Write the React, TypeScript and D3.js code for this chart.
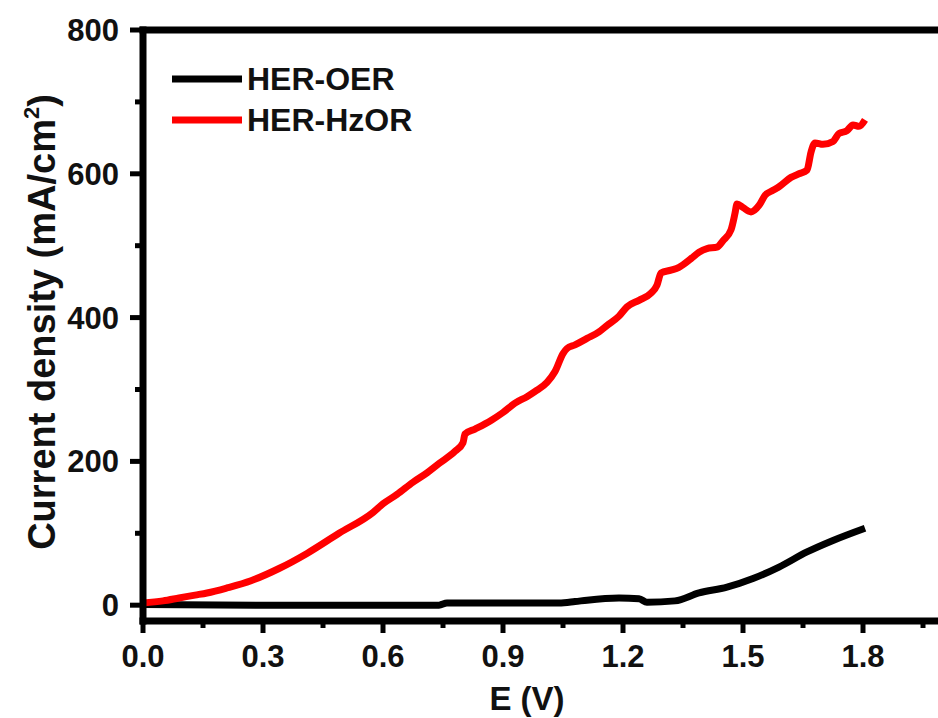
import { useEffect, useRef } from 'react';
import * as d3 from 'd3';

// HER-HzOR (red): [E (V), j (mA/cm2)]
const herHzorE = [0.0, 0.05, 0.09, 0.13, 0.16, 0.21, 0.27, 0.34, 0.41, 0.49, 0.575, 0.6, 0.635, 0.675, 0.71, 0.74, 0.78, 0.8, 0.805, 0.83, 0.87, 0.9, 0.93, 0.96, 0.985, 1.01, 1.03, 1.05, 1.06, 1.08, 1.11, 1.14, 1.16, 1.19, 1.21, 1.24, 1.27, 1.285, 1.295, 1.32, 1.34, 1.37, 1.39, 1.41, 1.435, 1.45, 1.47, 1.48, 1.485, 1.5, 1.52, 1.54, 1.555, 1.575, 1.59, 1.62, 1.64, 1.66, 1.67, 1.68, 1.7, 1.725, 1.74, 1.76, 1.775, 1.79, 1.805];
const herHzorJ = [3, 6, 10, 14, 17, 24, 34, 51, 72, 100, 129, 141, 154, 171, 184, 197, 214, 226, 238, 245, 257, 268, 281, 290, 299, 310, 325, 350, 357, 362, 371, 380, 389, 402, 415, 424, 434, 445, 462, 466, 470, 482, 491, 496, 498, 507, 522, 545, 558, 553, 547, 556, 570, 577, 582, 595, 600, 605, 630, 643, 641, 645, 656, 660, 668, 666, 675];

// HER-OER (black)
const herOerE = [0.0, 0.3, 0.74, 0.76, 1.04, 1.08, 1.11, 1.19, 1.24, 1.26, 1.33, 1.39, 1.46, 1.525, 1.59, 1.66, 1.725, 1.805];
const herOerJ = [1, 0, 0, 3, 3, 5, 7, 10, 9, 4, 6, 17, 25, 37, 53, 74, 90, 107];

const xMajor = [0, 0.3, 0.6, 0.9, 1.2, 1.5, 1.8];
const xMinor = [0.15, 0.45, 0.75, 1.05, 1.35, 1.65, 1.95];
const yMajor = [0, 200, 400, 600, 800];
const yMinor = [100, 300, 500, 700];

const FONT = 'Arial, "Liberation Sans", sans-serif';
const INK = '#111';

export default function App() {
  const ref = useRef<SVGSVGElement>(null);
  useEffect(() => {
    const width = 938;
    const svg = d3.select(ref.current);
    svg.selectAll('*').remove();

    const x = d3.scaleLinear().domain([0, 2.0]).range([143, 943]);
    const y = d3.scaleLinear().domain([-22, 800]).range([621, 30]);

    const line = d3.line<[number, number]>()
      .x(d => x(d[0]))
      .y(d => y(d[1]))
      .curve(d3.curveMonotoneX);

    const black: [number, number][] = herOerE.map((e, i) => [e, herOerJ[i]]);
    const red: [number, number][] = herHzorE.map((e, i) => [e, herHzorJ[i]]);

    // Curvas
    svg.append('path')
      .attr('d', line(black))
      .attr('fill', 'none')
      .attr('stroke', '#000')
      .attr('stroke-width', 7)
      .attr('stroke-linejoin', 'round');
    svg.append('path')
      .attr('d', line(red))
      .attr('fill', 'none')
      .attr('stroke', '#ff0000')
      .attr('stroke-width', 7)
      .attr('stroke-linejoin', 'round');

    // Marco (arriba, izquierda, abajo)
    const frame = svg.append('g').attr('stroke', '#000').attr('stroke-width', 7).attr('fill', 'none');
    frame.append('line').attr('x1', x(0) - 3.5).attr('x2', width).attr('y1', y(800)).attr('y2', y(800));
    frame.append('line').attr('x1', x(0)).attr('x2', x(0)).attr('y1', y(800) - 3.5).attr('y2', y(-22) + 3.5);
    frame.append('line').attr('x1', x(0) - 3.5).attr('x2', width).attr('y1', y(-22)).attr('y2', y(-22));

    // Ticks eje X
    const ticks = svg.append('g').attr('stroke', '#000').attr('stroke-width', 5);
    xMajor.forEach(v => {
      ticks.append('line').attr('x1', x(v)).attr('x2', x(v)).attr('y1', y(-22)).attr('y2', y(-22) + 12);
    });
    xMinor.forEach(v => {
      ticks.append('line').attr('x1', x(v)).attr('x2', x(v)).attr('y1', y(-22)).attr('y2', y(-22) + 7);
    });
    // Ticks eje Y
    yMajor.forEach(v => {
      ticks.append('line').attr('x1', x(0)).attr('x2', x(0) - 13).attr('y1', y(v)).attr('y2', y(v));
    });
    yMinor.forEach(v => {
      ticks.append('line').attr('x1', x(0)).attr('x2', x(0) - 8).attr('y1', y(v)).attr('y2', y(v));
    });

    // Etiquetas de ticks
    svg.append('g')
      .selectAll('text')
      .data(xMajor)
      .join('text')
      .attr('x', d => x(d))
      .attr('y', 667)
      .attr('text-anchor', 'middle')
      .attr('font-family', FONT)
      .attr('font-weight', 700)
      .attr('font-size', 31)
      .attr('fill', INK)
      .text(d => d.toFixed(1));
    svg.append('g')
      .selectAll('text')
      .data(yMajor)
      .join('text')
      .attr('x', 119)
      .attr('y', d => y(d) + 11)
      .attr('text-anchor', 'end')
      .attr('font-family', FONT)
      .attr('font-weight', 700)
      .attr('font-size', 31)
      .attr('fill', INK)
      .text(d => String(d));

    // Títulos de ejes
    svg.append('text')
      .attr('x', 527)
      .attr('y', 710)
      .attr('text-anchor', 'middle')
      .attr('font-family', FONT)
      .attr('font-weight', 700)
      .attr('font-size', 33)
      .attr('fill', INK)
      .text('E (V)');
    const yl = svg.append('text')
      .attr('transform', 'translate(55,322) rotate(-90)')
      .attr('text-anchor', 'middle')
      .attr('font-family', FONT)
      .attr('font-weight', 700)
      .attr('font-size', 38)
      .attr('fill', INK);
    yl.append('tspan').text('Current density (mA/cm');
    yl.append('tspan').attr('font-size', 22).attr('dy', -16).text('2');
    yl.append('tspan').attr('dy', 16).text(')');

    // Leyenda
    const legend = [
      { label: 'HER-OER', color: '#000', y: 79 },
      { label: 'HER-HzOR', color: '#ff0000', y: 120 },
    ];
    legend.forEach(item => {
      svg.append('line')
        .attr('x1', 172).attr('x2', 242)
        .attr('y1', item.y).attr('y2', item.y)
        .attr('stroke', item.color)
        .attr('stroke-width', 7);
      svg.append('text')
        .attr('x', 247)
        .attr('y', item.y + 11)
        .attr('font-family', FONT)
        .attr('font-weight', 700)
        .attr('font-size', 32)
        .attr('fill', INK)
        .text(item.label);
    });
  }, []);

  return (
    <svg
      ref={ref}
      width={938}
      height={718}
      style={{ position: 'absolute', left: 0, top: 0, background: '#fff', display: 'block' }}
    />
  );
}
